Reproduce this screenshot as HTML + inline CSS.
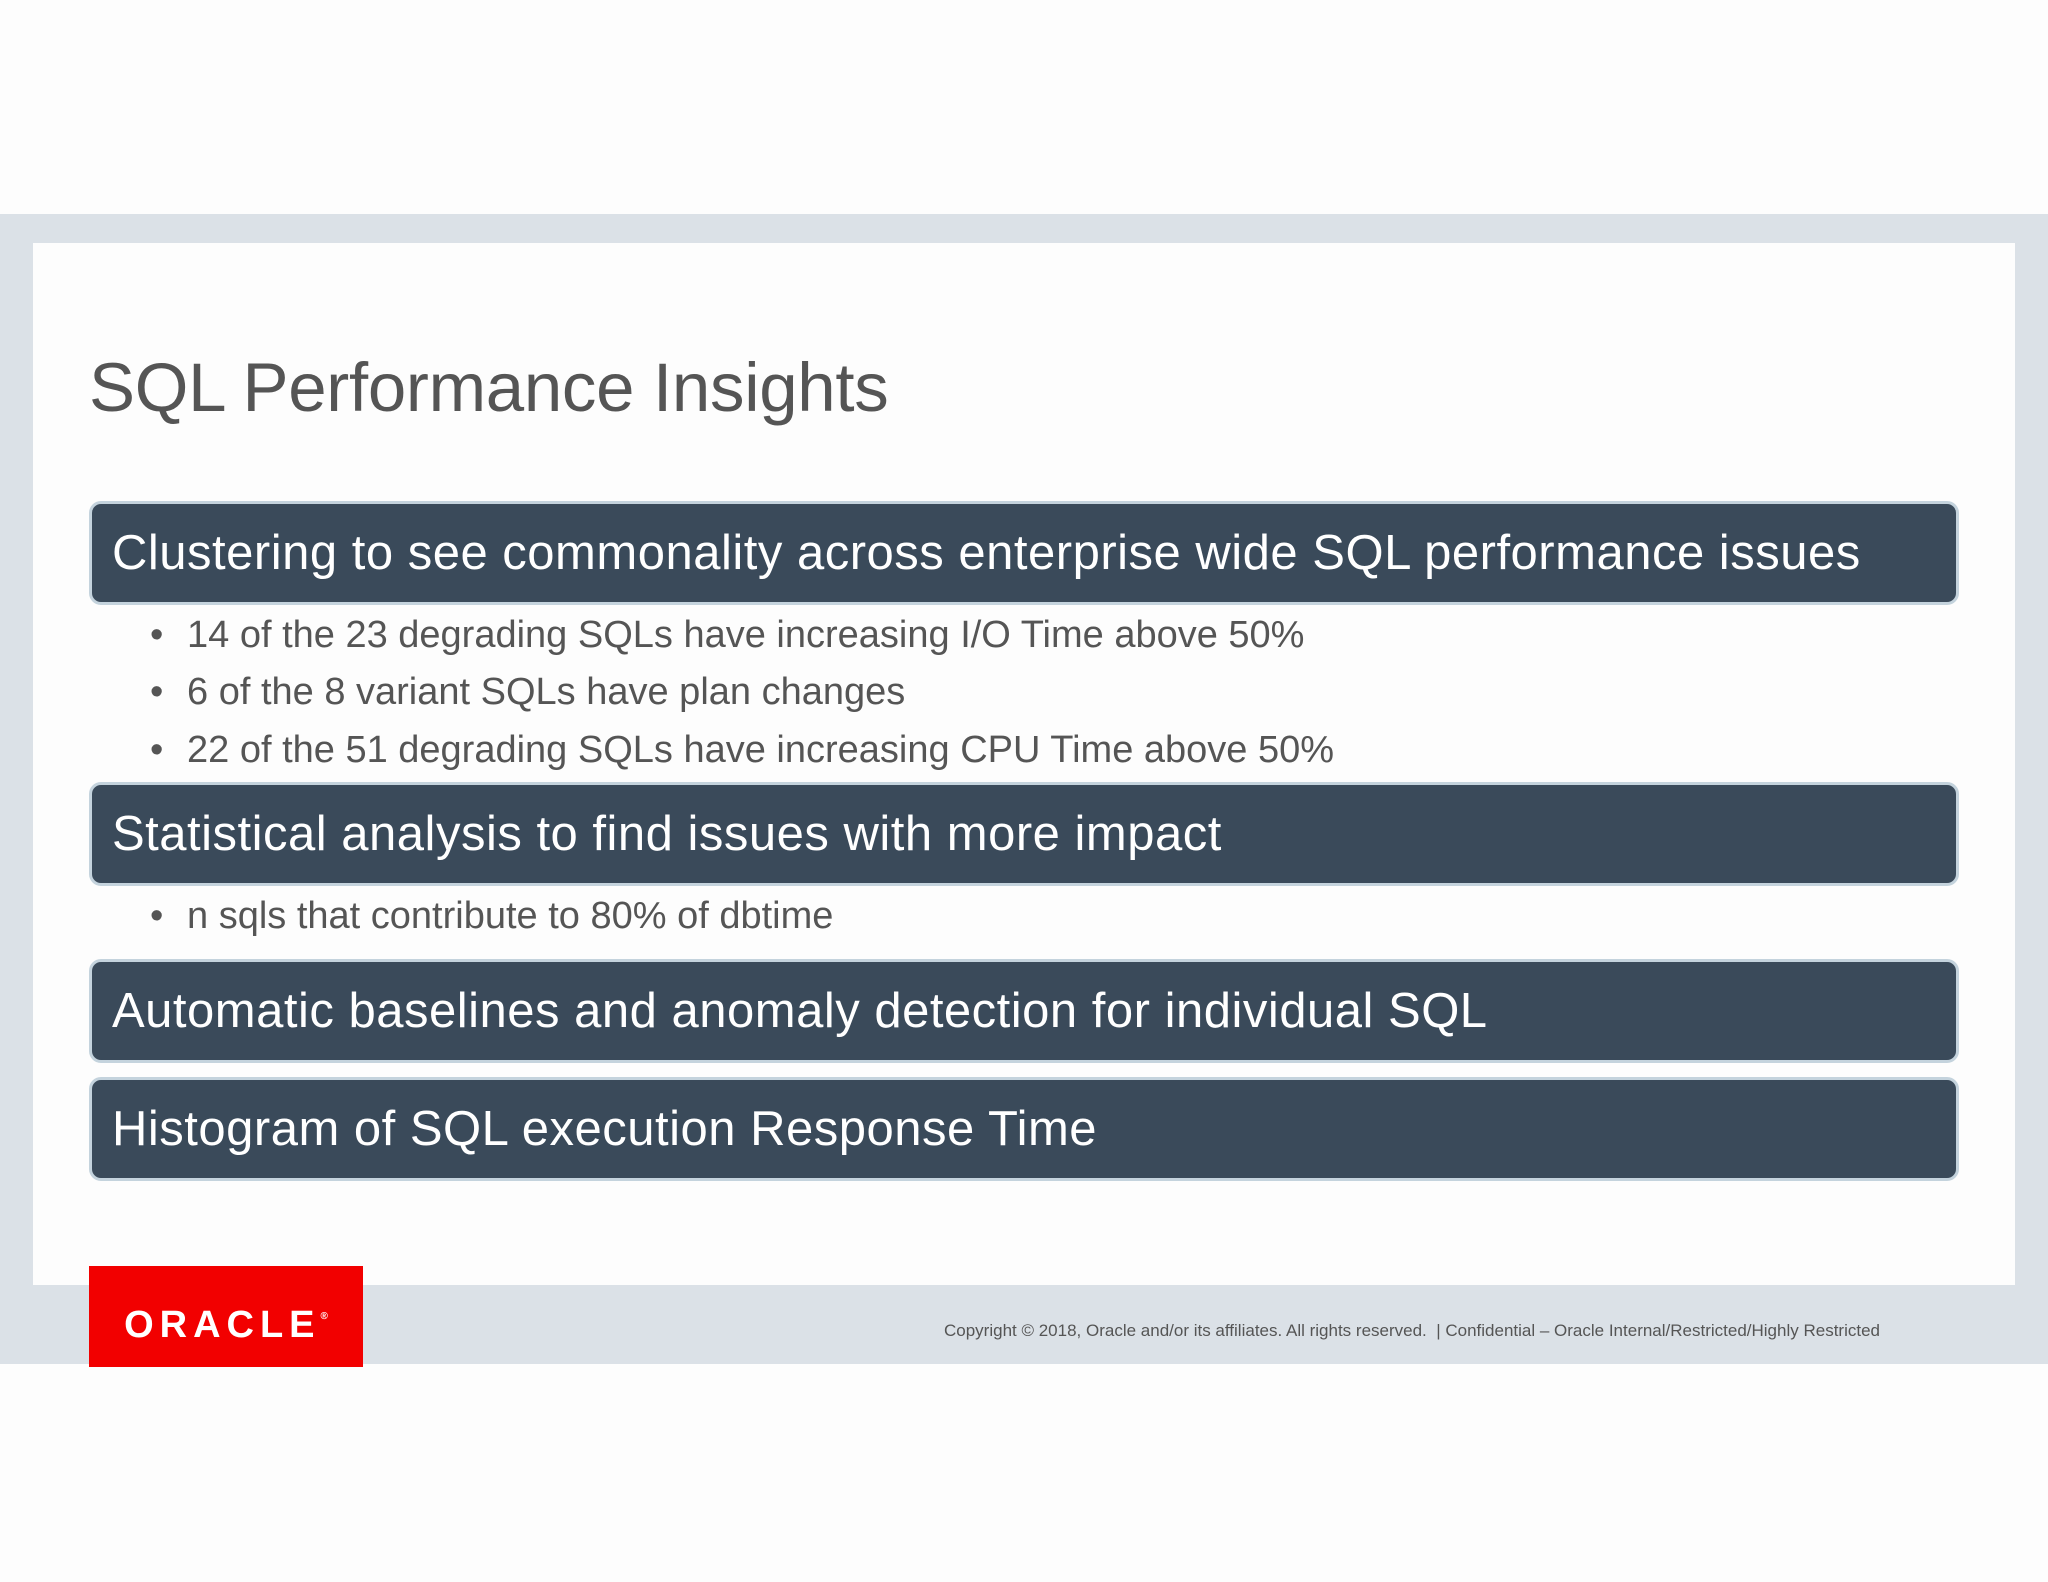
<!DOCTYPE html>
<html><head><meta charset="utf-8"><style>
body{margin:0;width:2048px;height:1582px;background:#fdfdfd;position:relative;overflow:hidden;font-family:"Liberation Sans",sans-serif}
.abs{position:absolute}
.band{left:0;top:214px;width:2048px;height:1150px;background:#dbe1e7}
.panel{left:33px;top:243px;width:1982px;height:1042px;background:#fdfdfd}
.title{left:89px;top:348px;font-size:69px;color:#555;white-space:nowrap;letter-spacing:-0.3px}
.box{left:89px;width:1844px;height:98px;background:#3a4a5a;border:3px solid #c4d3dd;border-radius:12px;color:#fff;font-size:49px;line-height:98px;padding-left:20px;box-sizing:content-box;white-space:nowrap;letter-spacing:0.5px}
.bl{left:150px;font-size:38px;color:#555;white-space:nowrap;line-height:46px}
.bl:before{content:"•";display:inline-block;width:37px}
.logo{left:89px;top:1266px;width:274px;height:101px;background:#f20000;color:#fff;font-size:38px;font-weight:bold;text-align:center;line-height:101px;letter-spacing:6px}
.copy{left:944px;top:1321px;font-size:17px;color:#555;white-space:nowrap}
</style></head><body>
<div class="abs band"></div>
<div class="abs panel"></div>
<div class="abs title">SQL Performance Insights</div>
<div class="abs box" style="top:501px">Clustering to see commonality across enterprise wide SQL performance issues</div>
<div class="abs bl" style="top:612px">14 of the 23 degrading SQLs have increasing I/O Time above 50%</div>
<div class="abs bl" style="top:669px">6 of the 8 variant SQLs have plan changes</div>
<div class="abs bl" style="top:727px">22 of the 51 degrading SQLs have increasing CPU Time above 50%</div>
<div class="abs box" style="top:782px">Statistical analysis to find issues with more impact</div>
<div class="abs bl" style="top:893px">n sqls that contribute to 80% of dbtime</div>
<div class="abs box" style="top:959px">Automatic baselines and anomaly detection for individual SQL</div>
<div class="abs box" style="top:1077px">Histogram of SQL execution Response Time</div>
<div class="abs logo">ORACLE<sup style="font-size:10px;vertical-align:18px;letter-spacing:0">®</sup></div>
<div class="abs copy">Copyright © 2018, Oracle and/or its affiliates. All rights reserved. &nbsp;| Confidential – Oracle Internal/Restricted/Highly Restricted</div>
</body></html>
